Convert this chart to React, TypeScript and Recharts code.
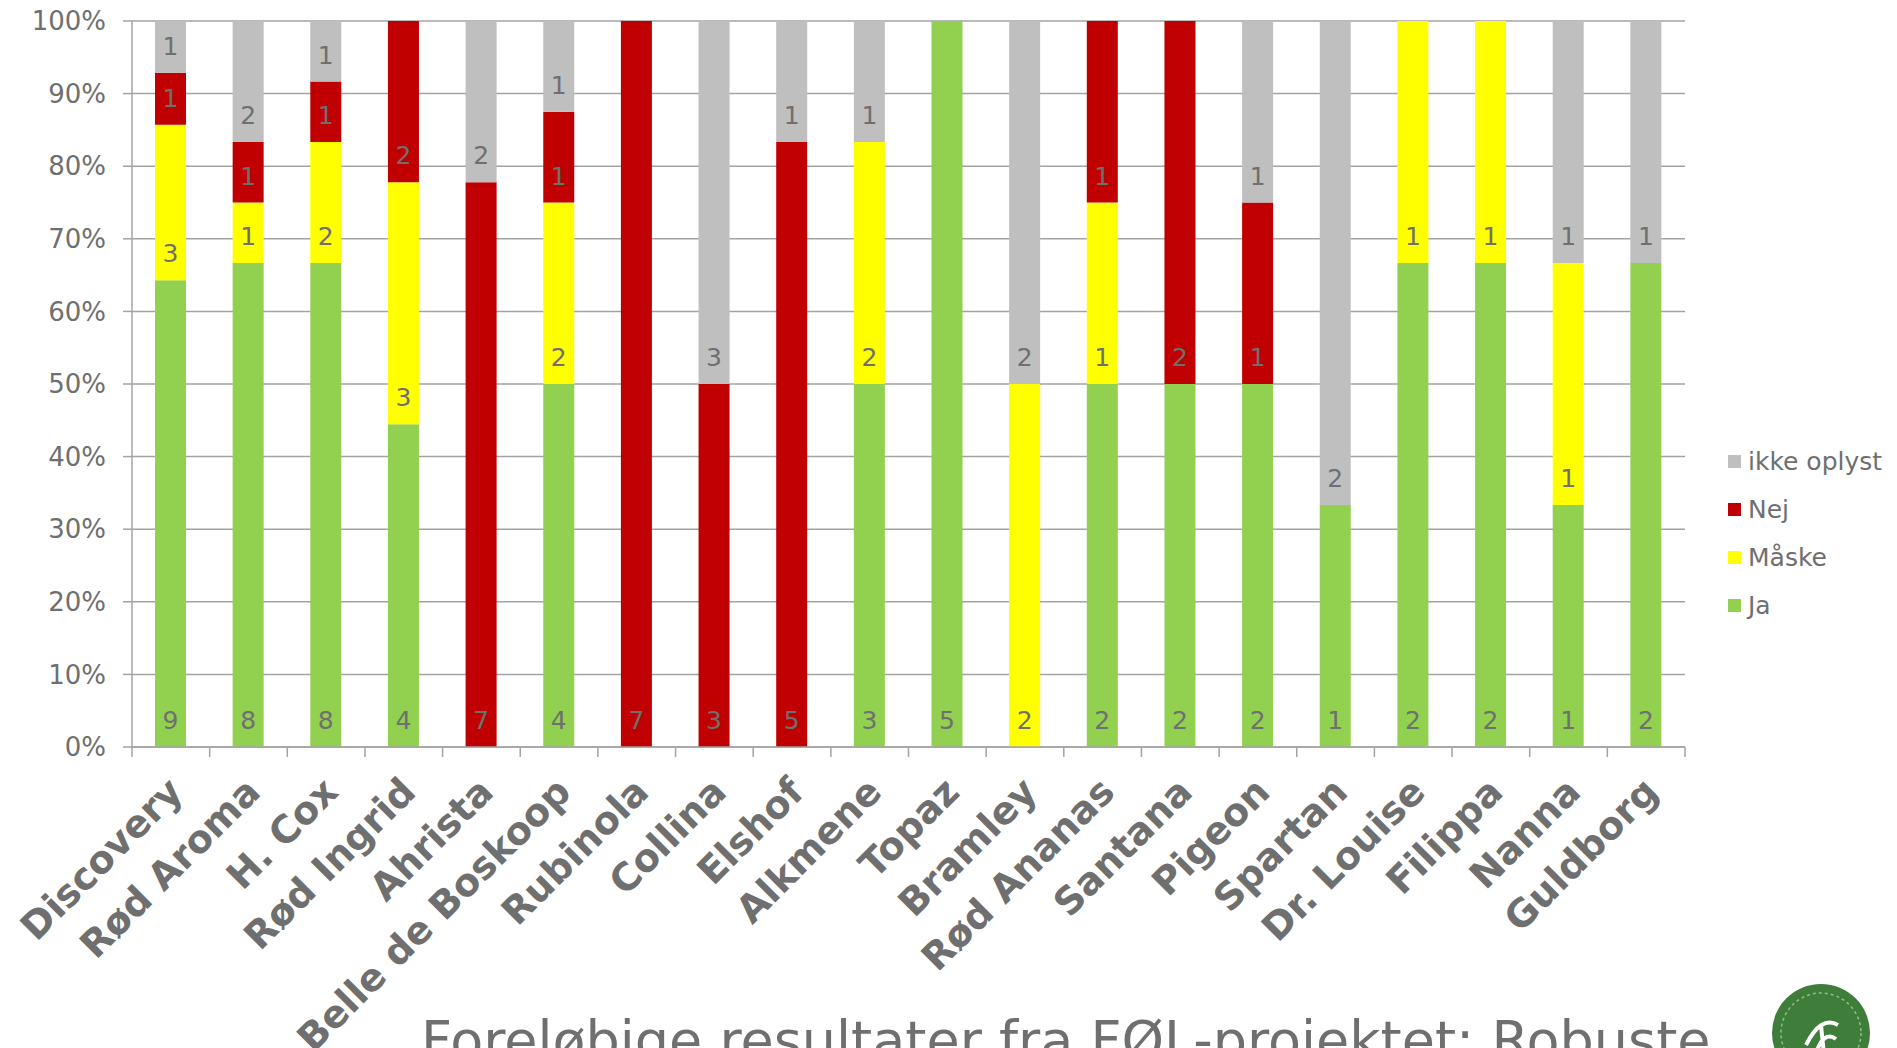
import { BarChart, Bar, XAxis, YAxis, CartesianGrid } from "recharts";

const categories = [
  "Discovery", "Rød Aroma", "H. Cox", "Rød Ingrid", "Ahrista", "Belle de Boskoop",
  "Rubinola", "Collina", "Elshof", "Alkmene", "Topaz", "Bramley", "Rød Ananas",
  "Santana", "Pigeon", "Spartan", "Dr. Louise", "Filippa", "Nanna", "Guldborg",
];
const ja = [9, 8, 8, 4, 0, 4, 0, 0, 0, 3, 5, 0, 2, 2, 2, 1, 2, 2, 1, 2];
const maaske = [3, 1, 2, 3, 0, 2, 0, 0, 0, 2, 0, 2, 1, 0, 0, 0, 1, 1, 1, 0];
const nej = [1, 1, 1, 2, 7, 1, 7, 3, 5, 0, 0, 0, 1, 2, 1, 0, 0, 0, 0, 0];
const ikkeOplyst = [1, 2, 1, 0, 2, 1, 0, 3, 1, 1, 0, 2, 0, 0, 1, 2, 0, 0, 1, 1];
const yTicks = [0, 0.1, 0.2, 0.3, 0.4, 0.5, 0.6, 0.7, 0.8, 0.9, 1];

const series = [
  { key: "ja", name: "Ja", color: "#92D050", values: ja },
  { key: "maaske", name: "Måske", color: "#FFFF00", values: maaske },
  { key: "nej", name: "Nej", color: "#C00000", values: nej },
  { key: "ikke", name: "ikke oplyst", color: "#BFBFBF", values: ikkeOplyst },
];

const data = categories.map((name, i) => ({
  name,
  ja: ja[i],
  maaske: maaske[i],
  nej: nej[i],
  ikke: ikkeOplyst[i],
}));

const W = 1897;
const H = 1048;
const FONT = "'DejaVu Sans', Verdana, sans-serif";
const GREY = "#6f6f6f";
const LINE = "#a3a3a3";
const margin = { top: 21, right: 212, left: 0, bottom: 0 };
const yAxisWidth = 132;
const plotLeft = margin.left + yAxisWidth;
const band = (W - margin.left - margin.right - yAxisWidth) / categories.length;

// zero-height bars are skipped by recharts, so find the category from the bar's x
const makeLabel = (values: number[]) => (props: any) => {
  const vb = props.viewBox ?? props;
  const { x, y, width, height } = vb;
  const i = Math.floor((x + width / 2 - plotLeft) / band);
  const v = values[i];
  if (!v) return null;
  return (
    <text
      x={x + width / 2}
      y={y + height - 18}
      textAnchor="middle"
      fill={GREY}
      fontSize={25}
      fontFamily={FONT}
    >
      {v}
    </text>
  );
};

const CategoryTick = (props: any) => {
  const { x, y, payload, index } = props;
  const last = index === categories.length - 1;
  return (
    <g>
      <line x1={x - band / 2} x2={x - band / 2} y1={y} y2={y + 10} stroke={LINE} strokeWidth={1.5} />
      {last && <line x1={x + band / 2} x2={x + band / 2} y1={y} y2={y + 10} stroke={LINE} strokeWidth={1.5} />}
      <text
        transform={`translate(${x + 14},${y + 47}) rotate(-45)`}
        textAnchor="end"
        fill={GREY}
        fontSize={38}
        fontWeight="bold"
        fontFamily={FONT}
      >
        {payload.value}
      </text>
    </g>
  );
};

const LegendBox = () => (
  <div style={{ position: "absolute", left: 1728, top: 437, fontFamily: FONT, fontSize: 25, color: GREY }}>
    {[...series].reverse().map((s) => (
      <div key={s.key} style={{ display: "flex", alignItems: "center", height: 48 }}>
        <span style={{ width: 13, height: 13, background: s.color, marginRight: 7, display: "inline-block" }} />
        {s.name}
      </div>
    ))}
  </div>
);

const Logo = () => (
  <svg width={110} height={110} style={{ position: "absolute", left: 1766, top: 975 }}>
    <circle cx={55} cy={58} r={49} fill="#3f7d3a" />
    <circle cx={55} cy={58} r={40} fill="none" stroke="#8fbf86" strokeWidth={1.5} strokeDasharray="3 3" />
    <path d="M40 70 Q55 40 72 50 M50 78 Q58 55 70 64 M55 50 L58 80" stroke="#ffffff" strokeWidth={4} fill="none" />
  </svg>
);

export default function App() {
  return (
    <div style={{ position: "fixed", left: 0, top: 0, width: W, height: H, overflow: "hidden", background: "#fff" }}>
      <BarChart width={W} height={H} data={data} margin={margin} stackOffset="expand" barSize={31}>
        <CartesianGrid vertical={false} stroke={LINE} strokeWidth={1.5} />
        <XAxis
          dataKey="name"
          height={H - 747}
          interval={0}
          tickLine={false}
          tickSize={0}
          tickMargin={0}
          axisLine={{ stroke: LINE, strokeWidth: 1.5 }}
          tick={<CategoryTick />}
        />
        <YAxis
          width={yAxisWidth}
          domain={[0, 1]}
          ticks={yTicks}
          interval={0}
          tickFormatter={(v: number) => `${Math.round(v * 100)}%`}
          tickSize={9}
          tickMargin={17}
          tickLine={{ stroke: LINE, strokeWidth: 1.5 }}
          axisLine={{ stroke: LINE, strokeWidth: 1.5 }}
          tick={{ fill: GREY, fontSize: 26, fontFamily: FONT }}
        />
        {series.map((s) => (
          <Bar
            key={s.key}
            dataKey={s.key}
            name={s.name}
            stackId="a"
            fill={s.color}
            isAnimationActive={false}
            label={makeLabel(s.values)}
          />
        ))}
        <text x={421} y={1059} fill={GREY} fontSize={54} fontFamily={FONT}>
          Foreløbige resultater fra FØL-projektet: Robuste
        </text>
      </BarChart>
      <LegendBox />
      <Logo />
    </div>
  );
}
